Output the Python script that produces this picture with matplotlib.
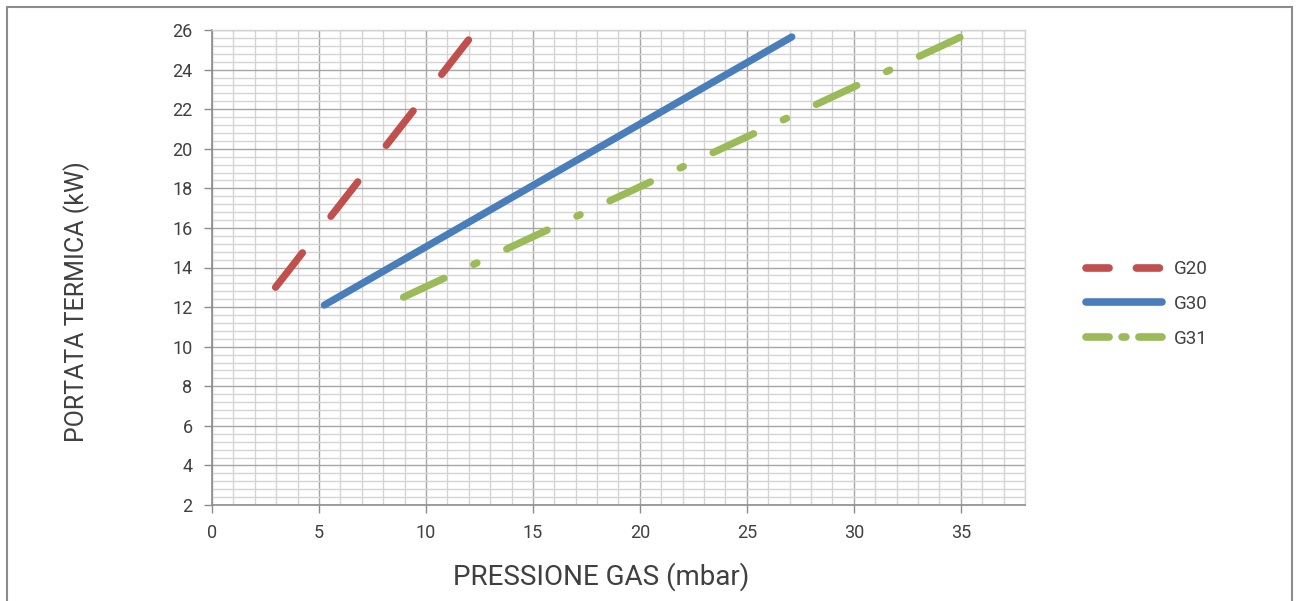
import matplotlib
matplotlib.use("Agg")
import matplotlib.pyplot as plt
from matplotlib.ticker import MultipleLocator
from matplotlib.lines import Line2D
from matplotlib.patches import Rectangle

plt.rcParams['font.family'] = ['Roboto', 'DejaVu Sans']
plt.rcParams['lines.scale_dashes'] = False

# Data
series_names = ["G20", "G30", "G31"]
g20_x = [2.97, 12.1]
g20_y = [13.0, 25.65]
g30_x = [5.25, 27.1]
g30_y = [12.1, 25.65]
g31_x = [8.95, 35.0]
g31_y = [12.5, 25.65]

x_ticks = [0, 5, 10, 15, 20, 25, 30, 35]
y_ticks = [2, 4, 6, 8, 10, 12, 14, 16, 18, 20, 22, 24, 26]

RED = "#c0504d"
BLUE = "#4a7ebb"
GREEN = "#9bbb59"
TXT = "#404040"

fig = plt.figure(figsize=(12.96, 6.01), dpi=100)
ax = fig.add_axes([212/1296, 1-505/601, (1025-212)/1296, (505-30)/601])

lw = 5.2
ax.plot(g20_x, g20_y, color=RED, lw=lw, dashes=(31.5, 33.3),
        dash_capstyle='round', solid_capstyle='round', zorder=3)
ax.plot(g30_x, g30_y, color=BLUE, lw=lw,
        dash_capstyle='round', solid_capstyle='round', zorder=3)
ax.plot(g31_x, g31_y, color=GREEN, lw=lw, dashes=(32.2, 23.6, 2.6, 23.6),
        dash_capstyle='round', solid_capstyle='round', zorder=3)

ax.set_xlim(0, 38)
ax.set_ylim(2, 26)
ax.set_xticks(x_ticks)
ax.set_yticks(y_ticks)
ax.xaxis.set_minor_locator(MultipleLocator(1))
ax.yaxis.set_minor_locator(MultipleLocator(0.4))
ax.grid(which='major', color='#a6a6a6', lw=1.0, zorder=1)
ax.grid(which='minor', color='#d4d4d4', lw=1.0, zorder=0)
ax.set_axisbelow(True)
ax.tick_params(which='major', length=6, width=1, color='#8c8c8c',
               labelsize=13, labelcolor=TXT, pad=8)
ax.tick_params(which='minor', length=0)
for s in ['left', 'bottom']:
    ax.spines[s].set_color('#8c8c8c')
    ax.spines[s].set_linewidth(1.2)
for s in ['top', 'right']:
    ax.spines[s].set_color('#d4d4d4')
    ax.spines[s].set_linewidth(1.0)

fig.text(77/1296, 1-301.5/601, "PORTATA TERMICA (kW)", rotation=90,
         ha='center', va='center', fontsize=18, color=TXT)
fig.text(601/1296, 1-577/601, "PRESSIONE GAS (mbar)",
         ha='center', va='center', fontsize=20, color=TXT)

handles = [
    Line2D([], [], color=RED, lw=5.5, dashes=(16.6, 19.7),
           dash_capstyle='round', solid_capstyle='round'),
    Line2D([], [], color=BLUE, lw=5.5,
           dash_capstyle='round', solid_capstyle='round'),
    Line2D([], [], color=GREEN, lw=5.5, dashes=(16.6, 9.4, 2.7, 9.4),
           dash_capstyle='round', solid_capstyle='round'),
]
fig.legend(handles, series_names, loc='center left',
           bbox_to_anchor=(1086/1296, 1-304/601), frameon=False,
           fontsize=13.5, handlelength=4.05, handletextpad=0.65,
           labelspacing=0.88, borderpad=0, borderaxespad=0,
           labelcolor=TXT)

fig.add_artist(Rectangle((7/1296, -0.05), (1292-7)/1296, 1-7/601+0.05,
                         transform=fig.transFigure, fill=False,
                         edgecolor='#8c8c8c', lw=1.5, clip_on=False))

fig.savefig("out.png", dpi=100)
